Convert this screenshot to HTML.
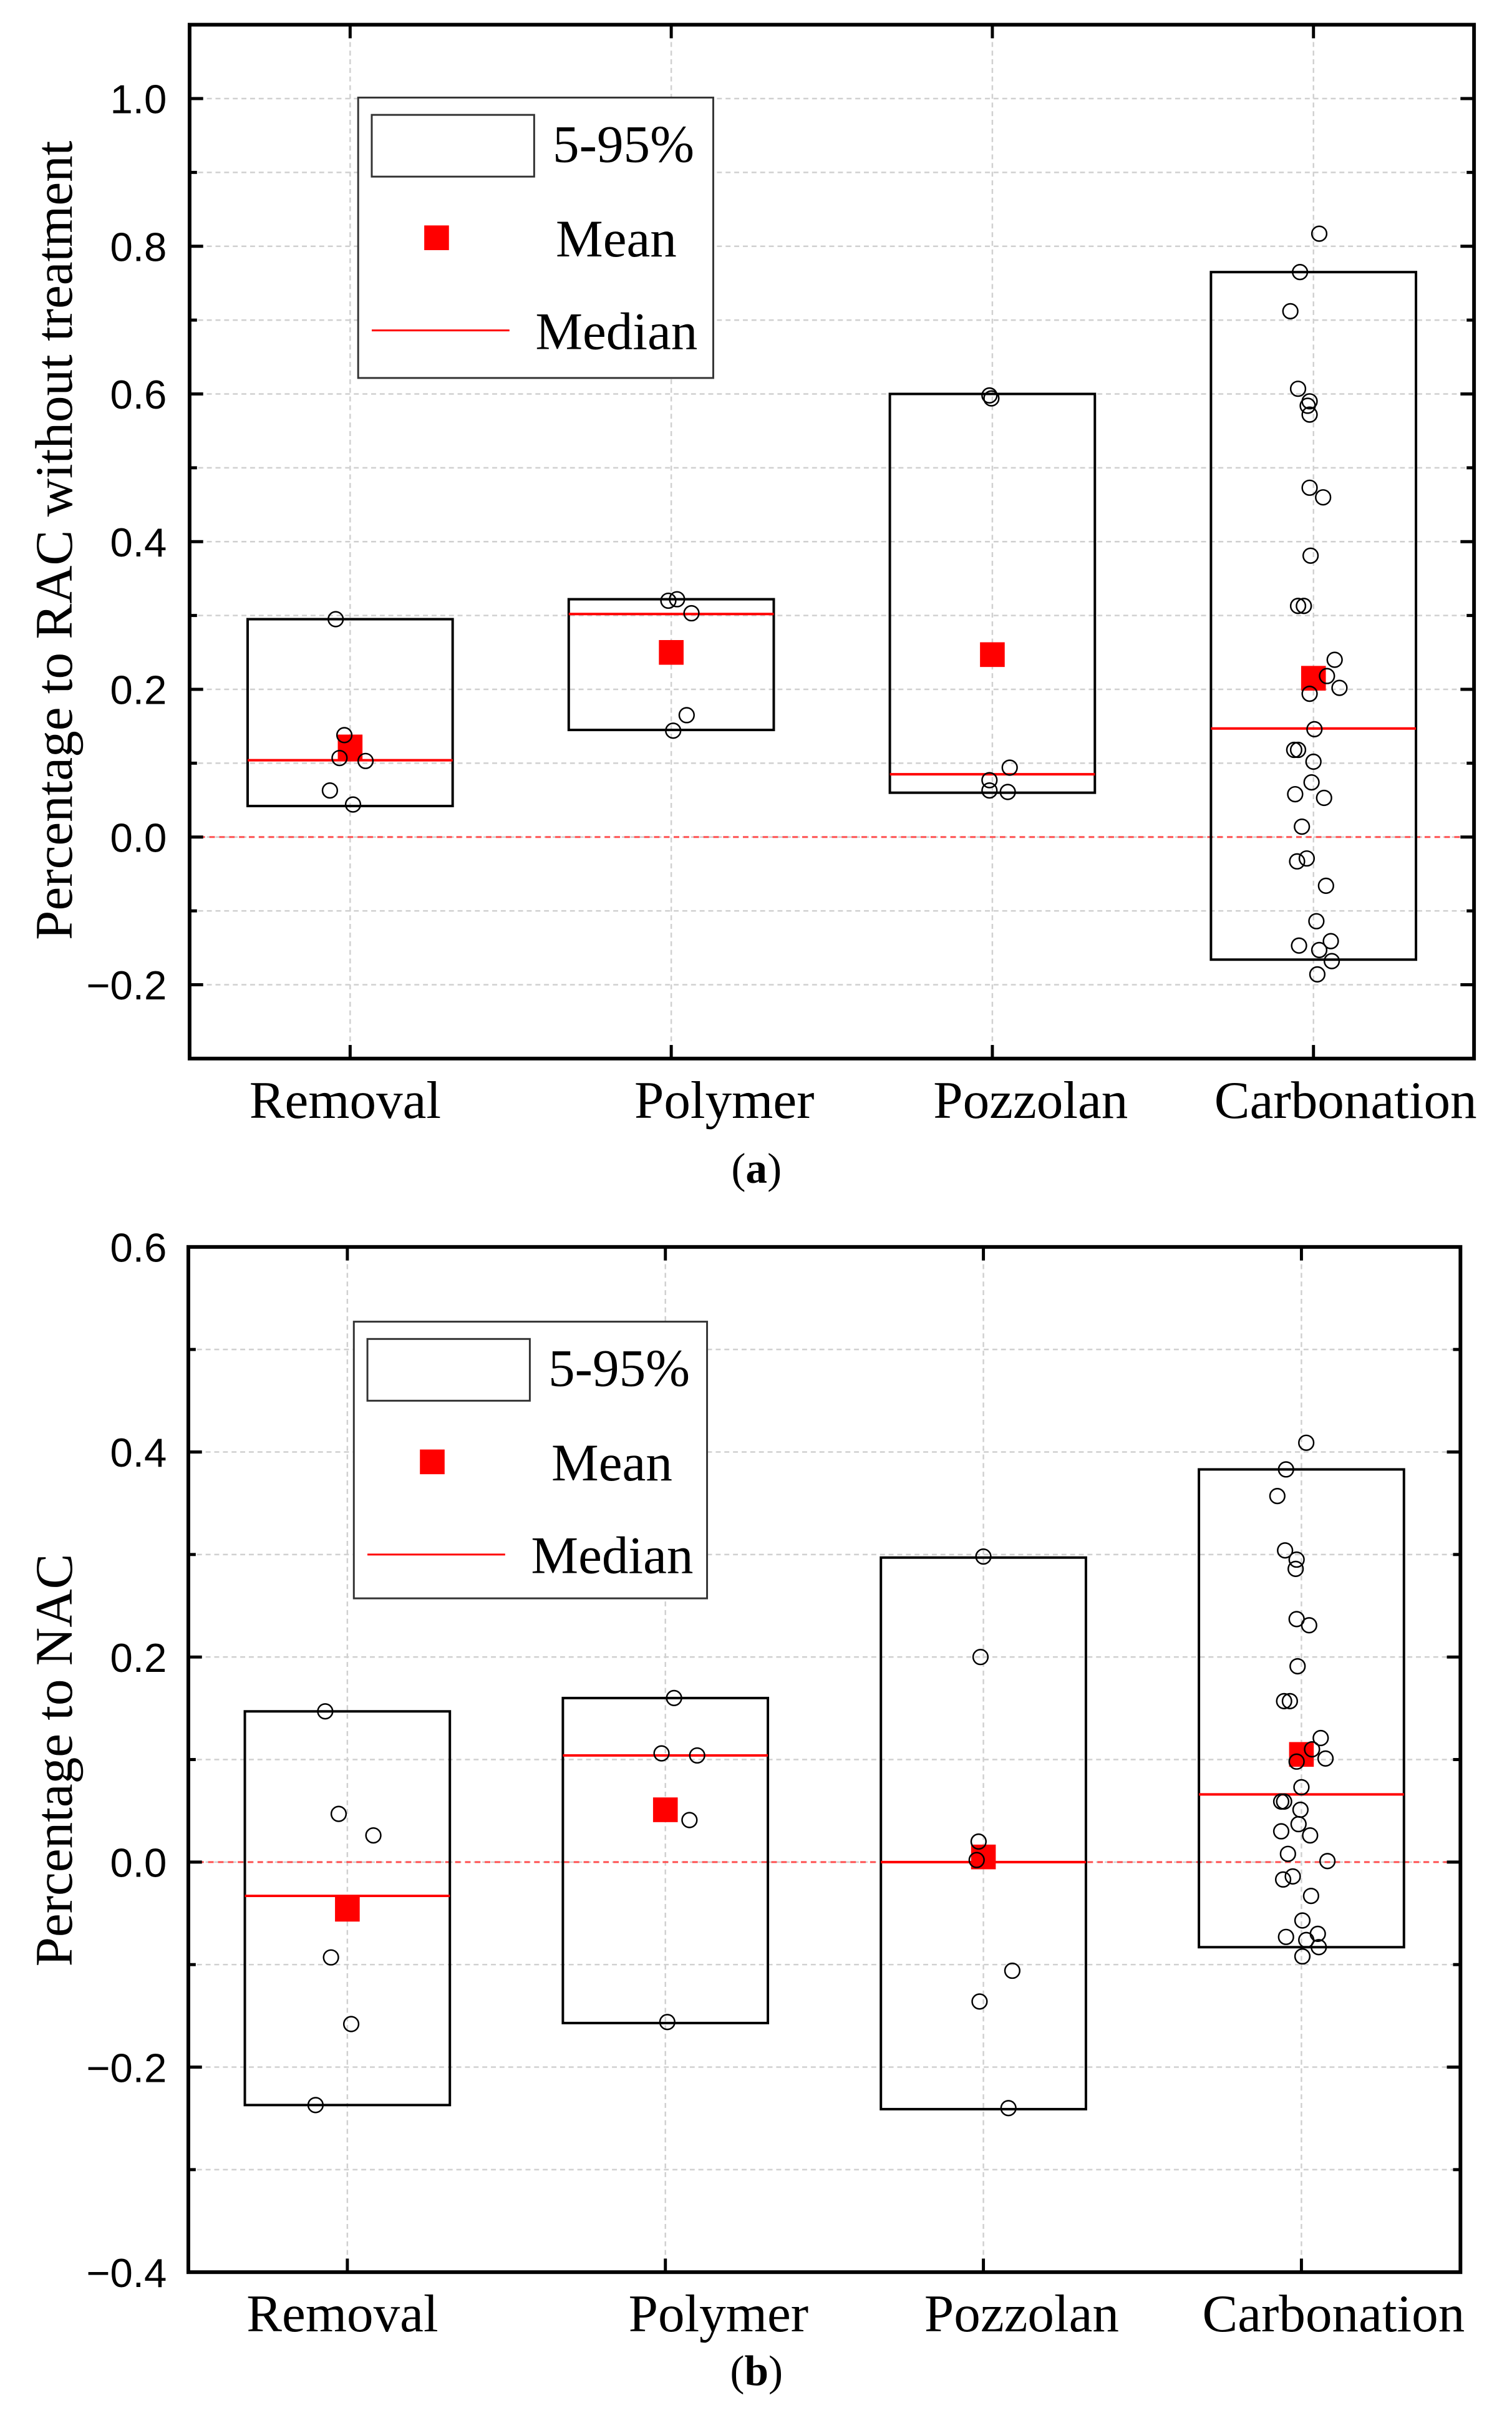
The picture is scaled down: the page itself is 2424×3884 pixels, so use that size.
<!DOCTYPE html>
<html><head><meta charset="utf-8"><style>
html,body{margin:0;padding:0;background:#fff;}
svg{display:block;}
</style></head><body>
<svg id="fig" width="2424" height="3884" viewBox="0 0 2424 3884" xmlns="http://www.w3.org/2000/svg"><g id="root" transform="scale(0.99)"></g></svg>
<script>
const categories = ["Removal","Polymer","Pozzolan","Carbonation"];
// Chart (a)
const aBoxLow = [0.042, 0.145, 0.060, -0.166];
const aBoxHigh = [0.295, 0.322, 0.600, 0.765];
const aMedian = [0.104, 0.302, 0.085, 0.147];
const aMean = [0.122, 0.250, 0.247, 0.215];
const aPoints = [
 [0.295,0.138,0.107,0.103,0.063,0.044],
 [0.320,0.322,0.303,0.144,0.165],
 [0.598,0.594,0.077,0.094,0.063,0.061],
 [0.817,0.765,0.712,0.607,0.590,0.584,0.572,0.473,0.460,0.381,0.313,0.313,0.240,0.218,0.194,0.202,0.146,0.118,0.118,0.102,0.058,0.074,0.053,0.014,-0.033,-0.029,-0.066,-0.114,-0.147,-0.141,-0.153,-0.168,-0.186]
];
const aJitter = [
 [-15,-6,-11,16,-21,3],
 [-3,6,21,2,16],
 [-3,-1,-3,18,-3,16],
 [6,-14,-24,-16,-4,-6,-4,-4,10,-3,-16,-10,22,14,-4,27,1,-20,-16,0,-19,-2,11,-12,-17,-7,13,3,-15,18,6,19,4]
];
const aTicks = ["−0.2","0.0","0.2","0.4","0.6","0.8","1.0"];
const aTickVals = [-0.2,0,0.2,0.4,0.6,0.8,1.0];
// Chart (b)
const bBoxLow = [-0.237, -0.157, -0.241, -0.083];
const bBoxHigh = [0.147, 0.160, 0.297, 0.383];
const bMedian = [-0.033, 0.104, 0.0, 0.066];
const bMean = [-0.046, 0.051, 0.005, 0.105];
const bPoints = [
 [0.147,0.047,0.026,-0.093,-0.158,-0.237],
 [0.160,0.106,0.104,0.041,-0.156],
 [0.298,0.200,0.020,0.002,-0.106,-0.136,-0.240],
 [0.409,0.383,0.357,0.304,0.295,0.286,0.237,0.231,0.191,0.157,0.157,0.121,0.110,0.101,0.098,0.073,0.059,0.059,0.051,0.037,0.030,0.026,0.008,0.001,-0.014,-0.017,-0.033,-0.057,-0.073,-0.070,-0.076,-0.083,-0.092]
];
const bJitter = [
 [-23,-9,27,-17,4,-33],
 [9,-4,33,25,2],
 [0,-3,-5,-7,30,-4,26],
 [5,-16,-25,-17,-5,-6,-5,8,-4,-18,-12,20,11,25,-5,0,-21,-18,-1,-3,-21,9,-14,27,-9,-19,10,1,-16,17,5,18,1]
];
const bTicks = ["−0.4","−0.2","0.0","0.2","0.4","0.6"];
const bTickVals = [-0.4,-0.2,0,0.2,0.4,0.6];

const NS="http://www.w3.org/2000/svg";
const svg=document.getElementById('root');
function el(tag,attrs,parent){const e=document.createElementNS(NS,tag);for(const k in attrs)e.setAttribute(k,attrs[k]);(parent||svg).appendChild(e);return e;}

function chart(cfg){
  const g=el('g',{});
  
  
  const {L,R,T,B,ymin,ymax}=cfg;
  const y=v=>B-(v-ymin)/(ymax-ymin)*(B-T);
  const x=i=>L+(i+0.5)/4*(R-L);
  for(let v=ymin+0.1;v<ymax-0.001;v+=0.1){
    const gl=el('line',{x1:L,x2:R,y1:y(v),y2:y(v),stroke:'#d0d0d0','stroke-width':2.5,'stroke-dasharray':'8,6'},g);
    
    
  }
  for(let i=0;i<4;i++){
    const gl=el('line',{x1:x(i),x2:x(i),y1:T,y2:B,stroke:'#d0d0d0','stroke-width':2.5,'stroke-dasharray':'8,6'},g);
    
    
  }
  const z=el('line',{x1:L,x2:R,y1:y(0),y2:y(0),stroke:'#ff5050','stroke-width':3,'stroke-dasharray':'9,7'},g);
  
  
  for(let i=0;i<4;i++){
    const hw=166;
    const bx=el('rect',{x:x(i)-hw,y:y(cfg.high[i]),width:2*hw,height:y(cfg.low[i])-y(cfg.high[i]),fill:'none',stroke:'#000','stroke-width':4},g);
    
    
    const md=el('line',{x1:x(i)-hw,x2:x(i)+hw,y1:y(cfg.median[i]),y2:y(cfg.median[i]),stroke:'#ff0000','stroke-width':4},g);
    
    
    const mn=el('rect',{x:x(i)-20,y:y(cfg.mean[i])-20,width:40,height:40,fill:'#ff0000'},g);
    
    
    cfg.points[i].forEach((v,j)=>{
      const c=el('circle',{cx:x(i)+cfg.jitter[i][j]*1.56,cy:y(v),r:12,fill:'none',stroke:'#000','stroke-width':2.5},g);
      
      
    });
  }
  const fr=el('rect',{x:L,y:T,width:R-L,height:B-T,fill:'none',stroke:'#000','stroke-width':6},g);
  
  
  for(let v=ymin;v<=ymax+0.001;v+=0.1){
    const major=Math.abs(Math.round(v*10)%2)===0;
    const len=major?22:12;
    el('line',{x1:L,x2:L+len,y1:y(v),y2:y(v),stroke:'#000','stroke-width':5},g);
    el('line',{x1:R,x2:R-len,y1:y(v),y2:y(v),stroke:'#000','stroke-width':5},g);
  }
  cfg.tickVals.forEach((v,k)=>{
    const t=el('text',{x:270,y:y(v)+24,'text-anchor':'end','font-family':'Liberation Sans, sans-serif','font-size':66},g);
    t.textContent=cfg.ticks[k];
    
    
  });
  const labOff=[-8,86,62,52];
  for(let i=0;i<4;i++){
    el('line',{x1:x(i),x2:x(i),y1:B,y2:B-22,stroke:'#000','stroke-width':5},g);
    el('line',{x1:x(i),x2:x(i),y1:T,y2:T+22,stroke:'#000','stroke-width':5},g);
    const t=el('text',{x:x(i)+labOff[i],y:cfg.catY,'text-anchor':'middle','font-family':'Liberation Serif, serif','font-size':86},g);
    t.textContent=categories[i];
    
    
  }
  const yt=el('text',{x:0,y:0,'text-anchor':'middle','font-family':'Liberation Serif, serif','font-size':86,transform:`translate(116,${cfg.titleY}) rotate(-90)`},g);
  yt.textContent=cfg.title;
  
  
  const lg=el('g',{},g);
  
  
  const Lg=cfg.leg;
  el('rect',{x:Lg.x,y:Lg.y,width:Lg.w,height:Lg.h,fill:'#fff',stroke:'#333','stroke-width':3},lg);
  el('rect',{x:Lg.x+22,y:Lg.y+28,width:263,height:100,fill:'none',stroke:'#333','stroke-width':3},lg);
  el('rect',{x:Lg.x+107,y:Lg.y+207,width:40,height:40,fill:'#ff0000'},lg);
  el('line',{x1:Lg.x+22,x2:Lg.x+245,y1:Lg.y+377,y2:Lg.y+377,stroke:'#ff0000','stroke-width':3},lg);
  [['5-95%',315,104],['Mean',320,257],['Median',287,407]].forEach(a=>{
    const t=el('text',{x:Lg.x+a[1],y:Lg.y+a[2],'font-family':'Liberation Serif, serif','font-size':86},lg);
    t.textContent=a[0];
    
    
  });
  const cap=el('text',{x:1225,y:cfg.capY,'text-anchor':'middle','font-family':'Liberation Serif, serif','font-size':70},g);
  cap.innerHTML='(<tspan font-weight="bold">'+cfg.cap+'</tspan>)';
  
  
}
chart({name:'chart-a',L:307,R:2387,T:40,B:1714,ymin:-0.3,ymax:1.1,low:aBoxLow,high:aBoxHigh,median:aMedian,mean:aMean,points:aPoints,jitter:aJitter,ticks:aTicks,tickVals:aTickVals,catY:1810,title:'Percentage to RAC without treatment',titleY:875,leg:{x:580,y:158,w:575,h:454},cap:'a',capY:1915});
chart({name:'chart-b',L:305,R:2365,T:2019,B:3679,ymin:-0.4,ymax:0.6,low:bBoxLow,high:bBoxHigh,median:bMedian,mean:bMean,points:bPoints,jitter:bJitter,ticks:bTicks,tickVals:bTickVals,catY:3775,title:'Percentage to NAC',titleY:2850,leg:{x:573,y:2140,w:572,h:448},cap:'b',capY:3862});
</script>
</body></html>
